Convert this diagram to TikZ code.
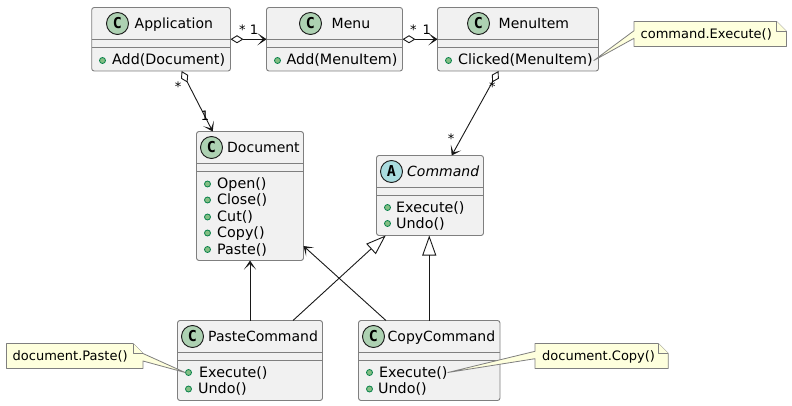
\documentclass[tikz,border=0pt]{standalone}
\usepackage{fontspec}
\setmainfont{DejaVu Sans}
\newfontfamily\spotfont{DejaVu Sans Mono}
\usetikzlibrary{arrows.meta, calc}
\definecolor{boxfill}{HTML}{F1F1F1}
\definecolor{boxline}{HTML}{7F7F7F}
\definecolor{linkcol}{HTML}{181818}
\definecolor{notefill}{HTML}{FEFFDD}
\definecolor{spotc}{HTML}{ADD1B2}
\definecolor{spota}{HTML}{A9DCDF}
\definecolor{dotfill}{HTML}{84BE84}
\definecolor{dotline}{HTML}{038048}

\begin{document}
\begin{tikzpicture}[x = 1pt, y = -1pt,
  classbox/.style = {draw = boxline, fill = boxfill, line width = 0.9pt, rounded corners = 2.5pt, inner sep = 0pt, outer sep = 0pt},
  sepline/.style = {draw = boxline, line width = 0.9pt},
  spot/.style = {circle, draw = linkcol, line width = 0.9pt, fill = spotc, minimum size = 22pt, inner sep = 0pt, font = \spotfont\bfseries\fontsize{15}{16}\selectfont},
  title/.style = {anchor = base west, inner sep = 0pt, font = \fontsize{14}{16}\selectfont},
  member/.style = {anchor = base west, inner sep = 0pt, font = \fontsize{14.3}{16}\selectfont},
  dot/.style = {circle, draw = dotline, line width = 0.8pt, fill = dotfill, minimum size = 6pt, inner sep = 0pt},
  link/.style = {draw = linkcol, line width = 0.9pt},
  hasa/.style = {link, {Diamond[open, length = 13pt, width = 8pt]}-{Stealth[length = 9pt, width = 12pt, inset = 5.5pt]}},
  usesa/.style = {link, -{Stealth[length = 9pt, width = 12pt, inset = 5.5pt]}},
  isa/.style = {link, -{Triangle[open, length = 20pt, width = 14pt]}},
  mult/.style = {inner sep = 0pt, font = \fontsize{13}{15}\selectfont},
  notebase/.style = {inner sep = 0pt, outer sep = 0pt},
  noteshape/.style = {draw = boxline, fill = notefill, line width = 0.8pt, line join = round},
  notetext/.style = {inner sep = 0pt, font = \fontsize{13}{15}\selectfont}]
\useasboundingbox (0, 0) rectangle (792, 406);

% class boxes
\foreach \nm/\cx/\cy/\boxw/\boxh in {app/161.1/39.25/138.8/63.5, menu/334.5/39.25/136/63.5, item/518/39.25/161/63.5,
    doc/250/196/107/129, cmd/430/195.5/107/80, paste/250/360.5/145/80, copy/429.25/360.5/141.5/80}
  \node[classbox, minimum width = \boxw pt, minimum height = \boxh pt] (\nm) at (\cx, \cy) {};
\foreach \nm/\ya/\yb in {app/39.5/47.5, menu/39.5/47.5, item/39.5/47.5, doc/163.5/171.5, cmd/187.5/195.5, paste/352.5/360.5, copy/352.5/360.5} {
  \draw[sepline] (\nm.west |- 0, \ya) -- (\nm.east |- 0, \ya);
  \draw[sepline] (\nm.west |- 0, \yb) -- (\nm.east |- 0, \yb);
}

% headers
\node[spot] (appspot) at (117.5, 23.5) {C};
\node[title] (apptitle) at (134.5, 28.5) {Application};
\node[spot] (menuspot) at (310.5, 23.5) {C};
\node[title] (menutitle) at (331.5, 28.5) {Menu};
\node[spot] (itemspot) at (478.5, 23.5) {C};
\node[title] (itemtitle) at (498.5, 28.5) {MenuItem};
\node[spot] (docspot) at (211.5, 147.5) {C};
\node[title] (doctitle) at (227, 152.5) {Document};
\node[spot, fill = spota] (cmdspot) at (391.5, 171.5) {A};
\node[title, font = \itshape\fontsize{14}{16}\selectfont] (cmdtitle) at (407, 176.5) {Command};
\node[spot] (pastespot) at (192.5, 336.5) {C};
\node[title] (pastetitle) at (208, 341.5) {PasteCommand};
\node[spot] (copyspot) at (373.5, 336.5) {C};
\node[title] (copytitle) at (387.5, 341.5) {CopyCommand};

% members
\foreach \id/\dx/\tx/\yy/\lbl in {a1/102.5/112/60.5/Add(Document), m1/277.5/286.5/60.5/Add(MenuItem), i1/448.5/458/60.5/Clicked(MenuItem),
    d1/207.5/217/184/Open(), d2/207.5/217/200/Close(), d3/207.5/217/217/Cut(), d4/207.5/217/233/Copy(), d5/207.5/217/249.5/Paste(),
    c1/387.5/396/207.5/Execute(), c2/387.5/396/223.5/Undo(),
    p1/188.5/199/372.5/Execute(), p2/188.5/198/389/Undo(),
    y1/369.5/379/372.5/Execute(), y2/369.5/378/389/Undo()} {
  \node[dot] (dot\id) at (\dx, \yy) {};
  \node[member] (txt\id) at (\tx, \yy + 4.5) {\lbl};
}

% connectors
\draw[hasa] (app) -- (menu);
\draw[hasa] (menu) -- (item);
\draw[hasa] ([xshift = 20.5pt]app.south) -- ([xshift = -37.3pt]doc.north);
\draw[hasa] ([xshift = -19.5pt]item.south) -- ([xshift = 21.7pt]cmd.north);
\draw[usesa] (paste.north) -- (doc.south);
\draw[usesa] ([xshift = -43.3pt]copy.north) -- ([yshift = 14.5pt]doc.south east);
\draw[isa] ([xshift = 43pt]paste.north) -- ([xshift = -44.3pt]cmd.south);
\draw[isa] (copy.north) -- (copy.north |- cmd.south);

\node[mult] (star1) at (242.3, 29.5) {*};
\node[mult] (one1) at (254, 30) {1};
\node[mult] (star2) at (413.3, 29.5) {*};
\node[mult] (one2) at (426.7, 30) {1};
\node[mult] (star3) at (178, 87) {*};
\node[mult] (one3) at (205, 115.7) {1};
\node[mult] (star4) at (492.3, 86.5) {*};
\node[mult] (star5) at (451, 138.8) {*};

% notes
\node[notebase, minimum width = 152.5pt, minimum height = 25pt] (noteexec) at (710.25, 34) {};
\node[notebase, minimum width = 136.5pt, minimum height = 25pt] (notepaste) at (74.75, 356) {};
\node[notebase, minimum width = 133.3pt, minimum height = 25pt] (notecopy) at (601.65, 356) {};
\draw[noteshape] (noteexec.north west) -- ([xshift = -10pt]noteexec.north east) -- ([yshift = -10pt]noteexec.north east)
  -- (noteexec.south east) -- (noteexec.south west) -- ([yshift = -4.3pt]noteexec.west) -- ([xshift = 1pt]txti1.east) -- ([yshift = 3.3pt]noteexec.west) -- cycle;
\draw[noteshape] ([xshift = -10pt]noteexec.north east) |- ([yshift = -10pt]noteexec.north east);
\draw[noteshape] (notepaste.north west) -- ([xshift = -10pt]notepaste.north east) -- ([yshift = -10pt]notepaste.north east)
  -- (dotp1.west) -- ([yshift = -5pt]notepaste.east) -- (notepaste.south east) -- (notepaste.south west) -- cycle;
\draw[noteshape] ([xshift = -10pt]notepaste.north east) |- ([yshift = -10pt]notepaste.north east);
\draw[noteshape] (notecopy.north west) -- ([xshift = -10pt]notecopy.north east) -- ([yshift = -10pt]notecopy.north east)
  -- (notecopy.south east) -- (notecopy.south west) -- ([yshift = -2.7pt]notecopy.west) -- (txty1.east) -- ([yshift = 4.7pt]notecopy.west) -- cycle;
\draw[noteshape] ([xshift = -10pt]notecopy.north east) |- ([yshift = -10pt]notecopy.north east);
\node[notetext, anchor = base west] (exectext) at (640.5, 38.5) {command.Execute()};
\node[notetext, anchor = base west] (pastetext) at (12.5, 360) {document.Paste()};
\node[notetext, anchor = base west] (copytext) at (542, 360.5) {document.Copy()};
\end{tikzpicture}
\end{document}
